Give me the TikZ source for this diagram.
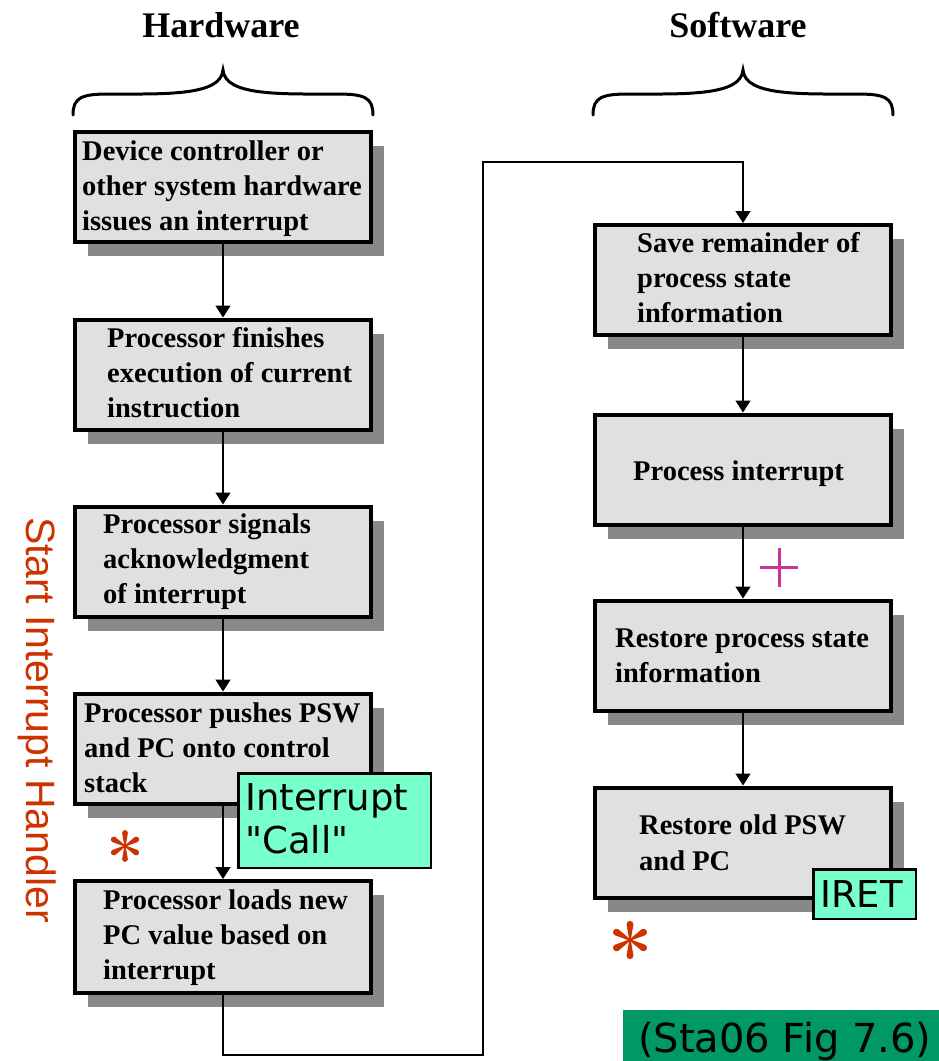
\documentclass[tikz,border=0pt]{standalone}
\usepackage{fontspec}
\setmainfont{Liberation Serif}
\newfontfamily\calloutfont{DejaVu Sans}
\newfontfamily\sidefont{Liberation Sans}
\usetikzlibrary{arrows.meta,shadows}

\definecolor{boxgray}{RGB}{224,224,224}
\definecolor{shadowgray}{RGB}{136,136,136}
\definecolor{calloutfill}{RGB}{119,255,204}
\definecolor{rust}{RGB}{204,51,0}
\definecolor{plusmag}{RGB}{204,51,153}
\definecolor{refgreen}{RGB}{0,153,102}

% multi-line text whose baseline is that of its first line
\newcommand{\steplines}[1]{\parbox[t]{300pt}{\raggedright #1}}

\begin{document}
\begin{tikzpicture}[x=1pt,y=-1pt,
  stepbox/.style={draw=black, line width=4pt, fill=boxgray,
    minimum width=296pt, minimum height=110pt, inner sep=0pt,
    drop shadow={shadow xshift=13pt, shadow yshift=-14pt,
      fill=shadowgray, opacity=1}},
  steptext/.style={anchor=base west, inner sep=0pt,
    font=\bfseries\fontsize{28.5}{35}\selectfont},
  header/.style={anchor=base, inner sep=0pt,
    font=\bfseries\fontsize{36}{40}\selectfont},
  callbox/.style={draw=black, line width=2.5pt, fill=calloutfill, inner sep=0pt},
  calltext/.style={anchor=base west, inner sep=0pt,
    font=\calloutfont\fontsize{37}{43}\selectfont},
  arr/.style={draw=black, line width=1.5pt,
    -{Triangle[width=15pt,length=12pt]}},
  brace/.style={draw=black, line width=3pt, line cap=round},
  asterisk/.pic={
    \foreach \a in {30,90,150,210,270,330}{
      \fill[rust, rotate=\a] (0,-0.6) -- (13,-2.9)
        arc[start angle=-90, end angle=90, radius=2.9] -- (0,0.6) -- cycle;
    }
  }
]
\useasboundingbox (0,0) rectangle (939,1061);

% column headers and braces
\node[header] (hw) at (221,37) {Hardware};
\node[header] (sw) at (738,37) {Software};
\foreach \dx in {0,520}{
  \draw[brace, xshift=\dx pt]
    (73,115) .. controls (73,97) and (82,94) .. (110,94)
    .. controls (165,94) and (221,96) .. (223,70)
    .. controls (225,96) and (281,94) .. (336,94)
    .. controls (364,94) and (373,97) .. (373,115);
}

% hardware steps
\node[stepbox] (b1) at (223,187) {};
\node[stepbox] (b2) at (223,374.5) {};
\node[stepbox] (b3) at (223,561.5) {};
\node[stepbox] (b4) at (223,748.5) {};
\node[stepbox, minimum height=112pt] (b5) at (223,937) {};

% software steps
\node[stepbox] (r1) at (743,280) {};
\node[stepbox] (r2) at (743,469.5) {};
\node[stepbox] (r3) at (743,655.5) {};
\node[stepbox] (r4) at (743,842.5) {};

% connectors
\draw[arr] (b1.south) -- (b2.north);
\draw[arr] (b2.south) -- (b3.north);
\draw[arr] (b3.south) -- (b4.north);
\draw[arr] (b4.south) -- (b5.north);
\draw[arr] (r1.south) -- (r2.north);
\draw[arr] (r2.south) -- (r3.north);
\draw[arr] (r3.south) -- (r4.north);

\coordinate (down) at (223,1055);
\coordinate (across) at (483,1055);
\coordinate (up) at (483,162);
\draw[arr] (b5.south) -- (down) -- (across) -- (up) -| (r1.north);

% step texts
\node[steptext] (t1) at (82,160)
  {\steplines{Device controller or\\other system hardware\\issues an interrupt}};
\node[steptext] (t2) at (107,347)
  {\steplines{Processor finishes\\execution of current\\instruction}};
\node[steptext] (t3) at (103,533)
  {\steplines{Processor signals\\acknowledgment\\of interrupt}};
\node[steptext] (t4) at (84,722)
  {\steplines{Processor pushes PSW\\and PC onto control\\stack}};
\node[steptext] (t5) at (103,909)
  {\steplines{Processor loads new\\PC value based on\\interrupt}};
\node[steptext] (s1) at (637,252)
  {\steplines{Save remainder of\\process state\\information}};
\node[steptext] (s2) at (633,480) {Process interrupt};
\node[steptext] (s3) at (615,647)
  {\steplines{Restore process state\\information}};
\node[steptext, font=\bfseries\fontsize{28.5}{36}\selectfont] (s4) at (639,834)
  {\steplines{Restore old PSW\\and PC}};

% instruction callouts
\node[callbox, minimum width=192.5pt, minimum height=94.5pt] (call) at (334.5,820.5) {};
\node[calltext] (callA) at (245,810) {Interrupt};
\node[calltext] (callB) at (245,853) {"Call"};
\node[callbox, minimum width=102.5pt, minimum height=49.5pt] (iret) at (864.5,894) {};
\node[calltext] (iretT) at (820,907) {IRET};

% side label
\node[anchor=base west, inner sep=0pt, rotate=-90, text=rust,
  font=\sidefont\fontsize{41}{45}\selectfont] (side) at (26,517)
  {Start Interrupt Handler};

% marks
\pic at (125,846) {asterisk};
\pic[scale=1.2] at (630,940) {asterisk};
\draw[plusmag, line width=3pt] (760,567) -- (798,567) (779,548) -- (779,587);

% source tag
\fill[refgreen] (623,1010) rectangle (939,1061);
\node[anchor=base west, inner sep=0pt,
  font=\calloutfont\fontsize{40}{44}\selectfont] (src) at (638,1052)
  {(Sta06 Fig 7.6)};
\end{tikzpicture}
\end{document}
